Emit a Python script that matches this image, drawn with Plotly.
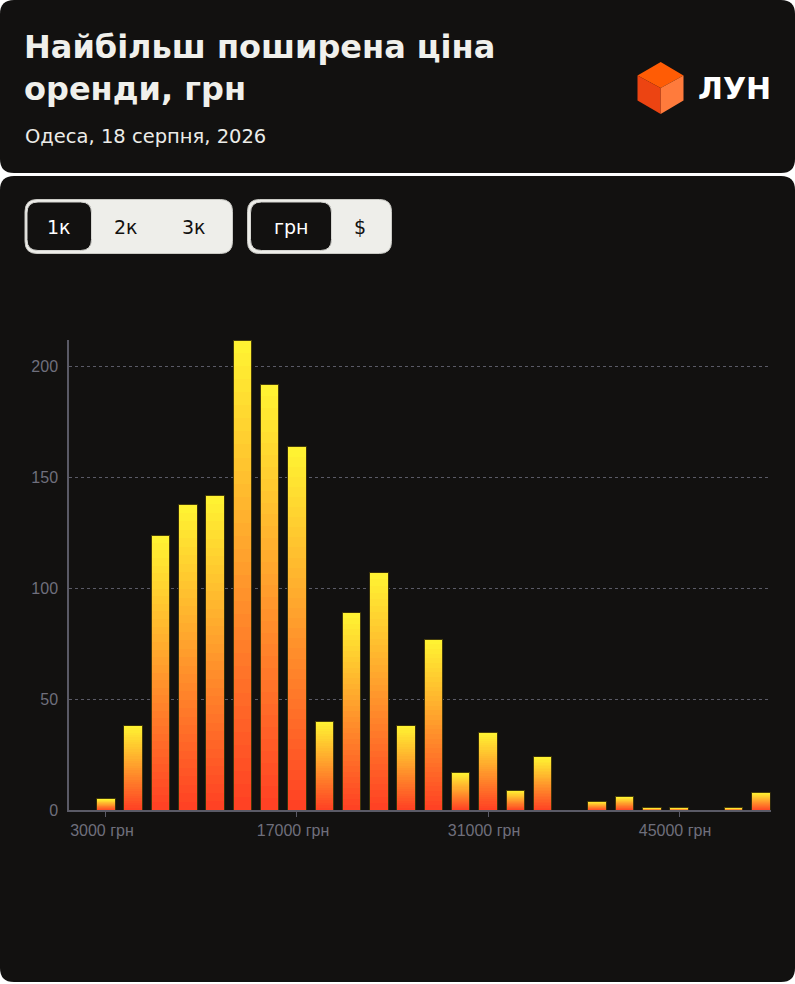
import plotly.graph_objects as go

# price bins (grn, bin centres) and number of listings in each
price_bins = [3000, 5000, 7000, 9000, 11000, 13000, 15000, 17000, 19000, 21000,
              23000, 25000, 27000, 29000, 31000, 33000, 35000, 37000, 39000, 41000,
              43000, 45000, 47000, 49000, 51000]
listings = [5, 38, 124, 138, 142, 212, 192, 164, 40, 89,
            107, 38, 77, 17, 35, 9, 24, 0, 4, 6,
            1, 1, 0, 1, 8]

tick_vals = [3000, 17000, 31000, 45000]
tick_text = ['3000 грн', '17000 грн', '31000 грн', '45000 грн']
y_ticks = [0, 50, 100, 150, 200]

title_text = 'Найбільш поширена ціна<br>оренди, грн'
subtitle_text = 'Одеса, 18 серпня, 2026'
size_options = ['1к', '2к', '3к']
currency_options = ['грн', '$']

W, H = 795, 984
BG = '#121110'
GRID = '#5a5a66'
TICK = '#6f6f7c'
HEAD_FONT = 'DejaVu Sans'
TICK_FONT = 'Liberation Sans'

# bottom red-orange -> yellow top
bar_scale = [[0.0, '#ff4224'], [0.5, '#ff9a2c'], [1.0, '#fff232']]
STEPS = 36


def px(x, y):
    return x / W, 1 - y / H


def rounded_rect(x0, y0, x1, y1, r):
    rx, ry = r / W, r / H
    a, b = px(x0, y0)
    c, d = px(x1, y1)
    # b is top (larger), d is bottom
    return ('M {0},{1} L {2},{1} Q {3},{1} {3},{4} L {3},{5} Q {3},{6} {2},{6} '
            'L {0},{6} Q {7},{6} {7},{5} L {7},{4} Q {7},{1} {0},{1} Z').format(
        a + rx, b, c - rx, c, b - ry, d + ry, d, a)


def label(text, x, y, size, color, anchor='center', bold=False):
    if bold:
        text = '<b>' + text + '</b>'
    return dict(text=text, x=x / W, y=1 - y / H, xref='paper', yref='paper',
                xanchor=anchor, yanchor='middle', showarrow=False, align='left',
                font=dict(family=HEAD_FONT, size=size, color=color))


fig = go.Figure()

# gradient bars: each bar is stacked from thin slices coloured by height level
for k in range(STEPS):
    fig.add_trace(go.Bar(
        x=price_bins,
        y=[v / STEPS for v in listings],
        marker=dict(color=[k] * len(listings), colorscale=bar_scale,
                    cmin=0, cmax=STEPS - 1, line=dict(width=0)),
        hoverinfo='skip',
        showlegend=False,
    ))

# thin dark outline around every bar
fig.add_trace(go.Bar(
    x=price_bins,
    y=listings,
    xaxis='x2', yaxis='y2',
    marker=dict(color='rgba(0,0,0,0)', line=dict(color='rgba(60,52,10,0.95)', width=1)),
    hoverinfo='skip',
    showlegend=False,
))

x_dom = [69 / W, 770.7 / W]
y_dom = [174 / H, 644 / H]
x_range = [290, 51720]
y_range = [0, 212]

shapes = [
    dict(type='path', path=rounded_rect(0, 0, 795, 173, 14), fillcolor=BG,
         line=dict(width=0), xref='paper', yref='paper', layer='below'),
    dict(type='path', path=rounded_rect(0, 176, 795, 982, 14), fillcolor=BG,
         line=dict(width=0), xref='paper', yref='paper', layer='below'),
    # size selector
    dict(type='path', path=rounded_rect(25, 199.5, 232.5, 253.5, 12), fillcolor='#eeeeea',
         line=dict(color='#c9c9c4', width=1), xref='paper', yref='paper', layer='below'),
    dict(type='path', path=rounded_rect(27, 202, 91.5, 250.5, 11), fillcolor=BG,
         line=dict(color='#d6d6d2', width=1), xref='paper', yref='paper', layer='below'),
    # currency selector
    dict(type='path', path=rounded_rect(247.5, 199.5, 391.5, 253.5, 12), fillcolor='#eeeeea',
         line=dict(color='#c9c9c4', width=1), xref='paper', yref='paper', layer='below'),
    dict(type='path', path=rounded_rect(250.5, 202, 331.5, 250.5, 11), fillcolor=BG,
         line=dict(color='#d6d6d2', width=1), xref='paper', yref='paper', layer='below'),
]

# ЛУН cube logo
top = [(660.7, 62), (683.5, 75.5), (660.7, 88), (637.5, 75.5)]
left = [(637.5, 75.5), (660.7, 88), (660.7, 114), (637.5, 100.5)]
right = [(683.5, 75.5), (660.7, 88), (660.7, 114), (683.5, 100.5)]
for pts, col in [(top, '#ff5c05'), (left, '#ec4412'), (right, '#ff7b3c')]:
    p = [px(a, b) for a, b in pts]
    path = 'M ' + ' L '.join('{},{}'.format(a, b) for a, b in p) + ' Z'
    shapes.append(dict(type='path', path=path, fillcolor=col, line=dict(width=0),
                       xref='paper', yref='paper', layer='below'))

annotations = [
    label(title_text, 22, 68.5, 32, '#f0f0ec', anchor='left', bold=True),
    label(subtitle_text, 23, 137, 19.5, '#ecece8', anchor='left'),
    label('ЛУН', 696, 88, 30, '#ffffff', anchor='left', bold=True),
]
for text, cx, col in zip(size_options, [59, 126, 194], ['#ffffff', BG, BG]):
    annotations.append(label(text, cx, 227, 19, col))
for text, cx, col in zip(currency_options, [291, 360], ['#ffffff', BG]):
    annotations.append(label(text, cx, 227, 19, col))

fig.update_layout(
    width=W, height=H,
    margin=dict(l=0, r=0, t=0, b=0, autoexpand=False),
    paper_bgcolor='#ffffff',
    plot_bgcolor='rgba(0,0,0,0)',
    barmode='stack',
    bargap=0.32,
    shapes=shapes,
    annotations=annotations,
    font=dict(family=TICK_FONT, color=TICK),
    xaxis=dict(domain=x_dom, range=x_range, tickvals=tick_vals, ticktext=tick_text,
               showgrid=False, zeroline=False, showline=True, linecolor=GRID, linewidth=1.5,
               ticks='outside', ticklen=5, tickcolor=GRID, tickfont=dict(size=16, color=TICK),
               ticklabelshift=-4, fixedrange=True),
    yaxis=dict(domain=y_dom, range=y_range, tickvals=y_ticks,
               showgrid=True, gridcolor=GRID, griddash='3px,3px', gridwidth=1,
               zeroline=False, showline=True, linecolor=GRID, linewidth=1.5,
               ticks='', ticklabelstandoff=6, tickfont=dict(size=16, color=TICK),
               fixedrange=True),
    xaxis2=dict(overlaying='x', anchor='y2', domain=x_dom, range=x_range, visible=False,
                fixedrange=True),
    yaxis2=dict(overlaying='y', anchor='x2', range=y_range, visible=False, fixedrange=True),
)

fig.write_html('out.html', config={'displayModeBar': False},
               post_script="document.body.style.margin='0';")
